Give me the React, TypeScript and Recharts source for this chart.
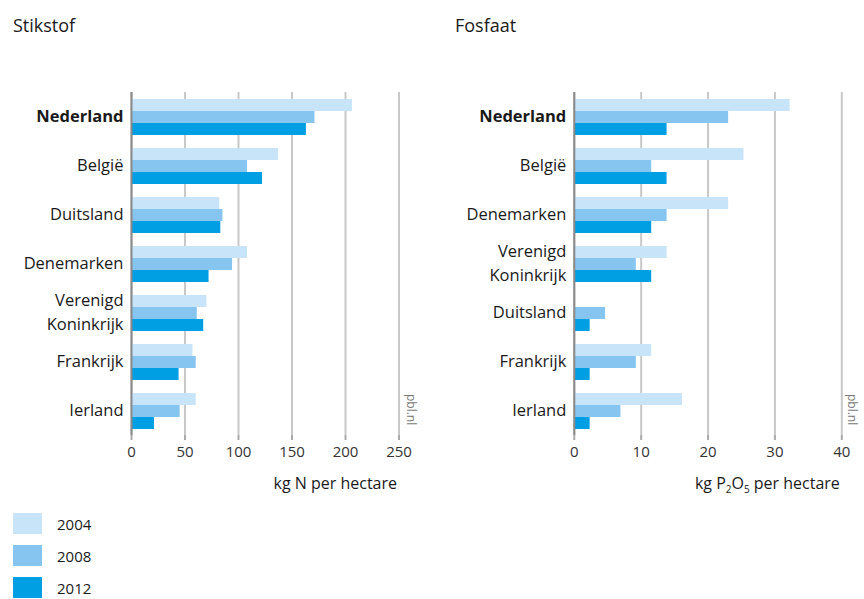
import { Bar, BarChart, CartesianGrid, Label, XAxis, YAxis } from "recharts";

const years = ["2004", "2008", "2012"];
const colors = ["#c7e4f8", "#86c5ef", "#009fe3"];

const stikstofLanden = ["Nederland", "België", "Duitsland", "Denemarken", "Verenigd Koninkrijk", "Frankrijk", "Ierland"];
const stikstof2004 = [206, 137, 82, 108, 70, 57, 60];
const stikstof2008 = [171, 108, 85, 94, 61, 60, 45];
const stikstof2012 = [163, 122, 83, 72, 67, 44, 21];
const stikstofTicks = [0, 50, 100, 150, 200, 250];

const fosfaatLanden = ["Nederland", "België", "Denemarken", "Verenigd Koninkrijk", "Duitsland", "Frankrijk", "Ierland"];
const fosfaat2004 = [32.2, 25.3, 23.0, 13.8, 0, 11.5, 16.1];
const fosfaat2008 = [23.0, 11.5, 13.8, 9.2, 4.6, 9.2, 6.9];
const fosfaat2012 = [13.8, 13.8, 11.5, 11.5, 2.3, 2.3, 2.3];
const fosfaatTicks = [0, 10, 20, 30, 40];

const font = "'Open Sans', sans-serif";

const toRows = (names: string[], a: number[], b: number[], c: number[]) =>
    names.map((name, i) => ({ name, y2004: a[i], y2008: b[i], y2012: c[i] }));

const stikstofData = toRows(stikstofLanden, stikstof2004, stikstof2008, stikstof2012);
const fosfaatData = toRows(fosfaatLanden, fosfaat2004, fosfaat2008, fosfaat2012);

const CountryTick = (props: any) => {
    const { x, y, payload } = props;
    const value: string = payload.value;
    const bold = value === "Nederland";
    const lines = value === "Verenigd Koninkrijk" ? ["Verenigd", "Koninkrijk"] : [value];
    return (
        <g>
            {lines.map((line, i) => (
                <text
                    key={line}
                    x={x}
                    y={y + (i - (lines.length - 1) / 2) * 24}
                    dy="0.35em"
                    textAnchor="end"
                    fontFamily={font}
                    fontSize={16.5}
                    fontWeight={bold ? 700 : 400}
                    fill="#1a1a1a"
                >
                    {line}
                </text>
            ))}
        </g>
    );
};

type PanelProps = {
    data: any[],
    ticks: number[],
    yWidth: number,
    rightMargin: number,
    unit: React.ReactNode,
};

const Panel = ({ data, ticks, yWidth, rightMargin, unit }: PanelProps) => (
    <BarChart
        width={yWidth + 267.5 + rightMargin}
        height={500}
        data={data}
        layout="vertical"
        barGap={0}
        margin={{ top: 92, right: rightMargin, left: 0, bottom: 0 }}
    >
        <CartesianGrid horizontal={false} stroke="#c8c8c8" strokeWidth={2} />
        <XAxis
            type="number"
            domain={[ticks[0], ticks[ticks.length - 1]]}
            ticks={ticks}
            interval={0}
            height={65}
            axisLine={false}
            tickSize={5}
            tickMargin={6}
            tickLine={{ stroke: "#aaaaaa", strokeWidth: 2 }}
            tick={{ fill: "#333333", fontSize: 15, fontFamily: font }}
        >
            <Label
                content={(p: any) => {
                    const vb = p.viewBox;
                    return (
                        <text
                            x={vb.x + vb.width - 2}
                            y={vb.y + 48}
                            dy="0.35em"
                            textAnchor="end"
                            fontFamily={font}
                            fontSize={16}
                            fill="#1a1a1a"
                        >
                            {unit}
                        </text>
                    );
                }}
            />
        </XAxis>
        <YAxis
            type="category"
            dataKey="name"
            width={yWidth}
            interval={0}
            tickSize={0}
            tickMargin={8}
            tickLine={false}
            axisLine={{ stroke: "#8a8a8a", strokeWidth: 2 }}
            tick={<CountryTick />}
        />
        {years.map((year, i) => (
            <Bar
                key={year}
                dataKey={`y${year}`}
                fill={colors[i]}
                barSize={12}
                isAnimationActive={false}
            />
        ))}
    </BarChart>
);

const Pbl = ({ left }: { left: number }) => (
    <div
        style={{
            position: "absolute",
            left,
            top: 394,
            transform: "rotate(90deg)",
            transformOrigin: "left top",
            fontFamily: font,
            fontSize: 12,
            color: "#7a7a7a",
            lineHeight: "13px",
            whiteSpace: "nowrap",
        }}
    >
        pbl.nl
    </div>
);

export default function App() {
    return (
        <div style={{ position: "absolute", left: 0, top: 0, width: 864, height: 599, overflow: "hidden", background: "#fff", fontFamily: font }}>
            <div style={{ position: "absolute", left: 13, top: 13, fontSize: 18, color: "#1a1a1a" }}>Stikstof</div>
            <div style={{ position: "absolute", left: 455, top: 13, fontSize: 18, color: "#1a1a1a" }}>Fosfaat</div>
            <div style={{ position: "absolute", left: 0, top: 0 }}>
                <Panel data={stikstofData} ticks={stikstofTicks} yWidth={131.5} rightMargin={21} unit="kg N per hectare" />
            </div>
            <div style={{ position: "absolute", left: 440, top: 0 }}>
                <Panel
                    data={fosfaatData}
                    ticks={fosfaatTicks}
                    yWidth={134.3}
                    rightMargin={22.3}
                    unit={
                        <>
                            <tspan>kg P</tspan>
                            <tspan fontSize={10} dy={4}>2</tspan>
                            <tspan dy={-4}>O</tspan>
                            <tspan fontSize={10} dy={4}>5</tspan>
                            <tspan dy={-4}> per hectare</tspan>
                        </>
                    }
                />
            </div>
            <Pbl left={418} />
            <Pbl left={859} />
            {years.map((year, i) => (
                <div key={year} style={{ position: "absolute", left: 13, top: 513 + i * 32, display: "flex", alignItems: "center" }}>
                    <div style={{ width: 29, height: 21, background: colors[i] }} />
                    <span style={{ marginLeft: 15, fontSize: 15, color: "#1a1a1a" }}>{year}</span>
                </div>
            ))}
        </div>
    );
}
